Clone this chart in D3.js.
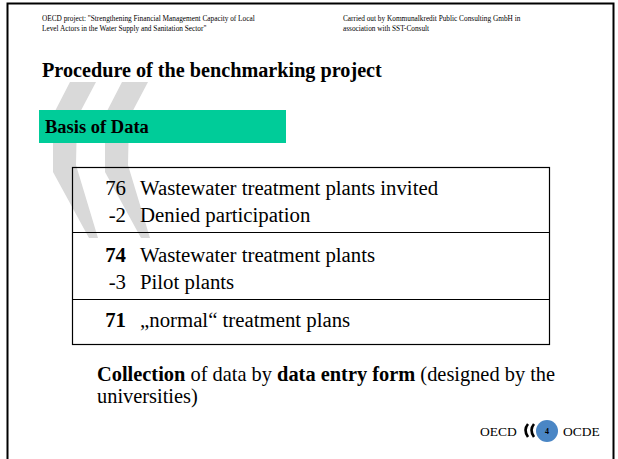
<!doctype html>
<html>
<head>
<meta charset="utf-8">
<style>
  body { margin: 0; background: #fff; }
  svg text { font-family: "Liberation Serif", "Times New Roman", serif; fill: #000; }
</style>
<script src="https://d3js.org/d3.v7.min.js"></script>
</head>
<body>
<svg id="slide" width="618" height="459"></svg>
<script>
// slide texts
var headerLeft = ["OECD project: \"Strengthening Financial Management Capacity of Local",
                  "Level Actors in the Water Supply and Sanitation Sector\""];
var headerRight = ["Carried out by Kommunalkredit Public Consulting GmbH in",
                   "association with SST-Consult"];
var title = "Procedure of the benchmarking project";
var section = "Basis of Data";

// table rows: number, label, bold number?, group
var rowNumbers = ["76", "-2", "74", "-3", "71"];
var rowLabels = ["Wastewater treatment plants invited", "Denied participation",
                 "Wastewater treatment plants", "Pilot plants", "\u201enormal\u201c treatment plans"];
var rowBold = [false, false, true, false, true];
var rowGroup = [0, 0, 1, 1, 2];

// bottom note, pieces with bold flag
var noteLine1 = [["Collection", true], [" of data by ", false], ["data entry form", true], [" (designed by the", false]];
var noteLine2 = [["universities)", false]];
var pageNumber = "4";

var svg = d3.select("#slide");

// background OECD chevrons
var chevron = "M17,0 L43,0 L24,36 L23,83 L45,156 L36,156 L0,90 L0,33 Z";
[53, 105].forEach(function(x) {
  svg.append("path")
     .attr("d", chevron)
     .attr("transform", "translate(" + x + ",82)")
     .attr("fill", "#d9d9d9");
});

// frame
svg.append("rect")
   .attr("x", 7.5).attr("y", 3.5)
   .attr("width", 606).attr("height", 470)
   .attr("fill", "none").attr("stroke", "#000").attr("stroke-width", 2);

// header
function header(lines, x) {
  svg.append("text")
     .attr("font-size", "7.3px")
     .selectAll("tspan")
     .data(lines)
     .join("tspan")
     .attr("x", x)
     .attr("y", function(d, i) { return 21 + i * 10; })
     .text(function(d) { return d; });
}
header(headerLeft, 42);
header(headerRight, 343);

svg.append("text")
   .attr("x", 42).attr("y", 77)
   .attr("font-size", "20.2px").attr("font-weight", "bold")
   .text(title);

svg.append("rect")
   .attr("x", 39).attr("y", 110)
   .attr("width", 247).attr("height", 33)
   .attr("fill", "#00cc99");
svg.append("text")
   .attr("x", 45).attr("y", 133)
   .attr("font-size", "18.5px").attr("font-weight", "bold")
   .text(section);

// table
var y = d3.scaleLinear().domain([0, 1]).range([195, 222]);
var groupOffset = d3.scaleOrdinal().domain([0, 1, 2]).range([0, 13, 24]);
function rowY(i) { return y(i) + groupOffset(rowGroup[i]); }

var table = svg.append("g");
table.append("rect")
     .attr("x", 72.5).attr("y", 167.5)
     .attr("width", 477).attr("height", 177)
     .attr("fill", "none").attr("stroke", "#000").attr("stroke-width", 1.2);

// a divider just under the last row of every group but the last
rowGroup.forEach(function(g, i) {
  if (i > 0 && g != rowGroup[i - 1]) {
    var ly = Math.round(rowY(i - 1) + 10) + 0.5;
    table.append("line")
         .attr("x1", 72).attr("x2", 550)
         .attr("y1", ly).attr("y2", ly)
         .attr("stroke", "#000").attr("stroke-width", 1.2);
  }
});

table.selectAll(".num")
     .data(rowNumbers)
     .join("text")
     .attr("class", "num")
     .attr("x", 126)
     .attr("y", function(d, i) { return rowY(i); })
     .attr("text-anchor", "end")
     .attr("font-size", "20.8px")
     .attr("font-weight", function(d, i) { return rowBold[i] ? "bold" : "normal"; })
     .text(function(d) { return d; });

table.selectAll(".lab")
     .data(rowLabels)
     .join("text")
     .attr("class", "lab")
     .attr("x", 140)
     .attr("y", function(d, i) { return rowY(i); })
     .attr("font-size", "20.8px")
     .text(function(d) { return d; });

// note below the table
[noteLine1, noteLine2].forEach(function(line, k) {
  svg.append("text")
     .attr("x", 97).attr("y", 381 + k * 22)
     .attr("font-size", "20.4px")
     .selectAll("tspan")
     .data(line)
     .join("tspan")
     .attr("font-weight", function(d) { return d[1] ? "bold" : "normal"; })
     .text(function(d) { return d[0]; });
});

// footer logo
var logo = svg.append("g");
logo.append("text").attr("x", 480).attr("y", 436).attr("font-size", "13.5px").text("OECD");
logo.append("text").attr("x", 563).attr("y", 436).attr("font-size", "13.5px").text("OCDE");
[524, 530].forEach(function(x) {
  logo.append("path")
      .attr("d", "M" + (x + 4) + ",424 Q" + (x - 1) + ",430 " + (x + 4) + ",437")
      .attr("fill", "none").attr("stroke", "#000").attr("stroke-width", 2.6);
});
logo.append("circle").attr("cx", 547).attr("cy", 431).attr("r", 11).attr("fill", "#4a86c5");
logo.append("text")
    .attr("x", 547).attr("y", 434)
    .attr("text-anchor", "middle")
    .attr("font-size", "8px").attr("font-weight", "bold")
    .attr("font-family", "Liberation Sans, Arial, sans-serif")
    .text(pageNumber);
</script>
</body>
</html>
